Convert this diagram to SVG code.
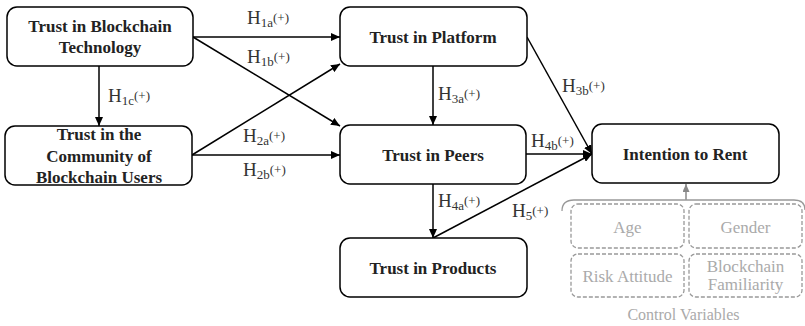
<svg xmlns="http://www.w3.org/2000/svg" width="805" height="326" viewBox="0 0 805 326">
  <style>
    text { font-family: 'Liberation Serif', 'DejaVu Serif', serif; }
    .node rect { fill: #ffffff; stroke: #000000; stroke-width: 1.5; }
    .node text { font-weight: bold; font-size: 17px; fill: #222222; text-anchor: middle; }
    .edge { stroke: #000000; stroke-width: 1.5; fill: none; marker-end: url(#arrow); }
    .hyp { font-size: 19px; fill: #333333; }
    .hyp .s { font-size: 13px; }
    .ctrl rect { fill: none; stroke: #999999; stroke-width: 1.3; stroke-dasharray: 4 2; }
    .ctrl text { font-size: 17px; fill: #aaaaaa; text-anchor: middle; }
    .ctrl text.ctrl-label { font-size: 16px; }
    .bracket { stroke: #999999; stroke-width: 1.3; fill: none; }
  </style>
  <defs>
    <marker id="arrow" viewBox="0 0 10 10" refX="10" refY="5" markerWidth="9" markerHeight="8" markerUnits="userSpaceOnUse" orient="auto" preserveAspectRatio="none">
      <path d="M0,0 L10,5 L0,10 Z" fill="#000000"/>
    </marker>
    <marker id="arrow-grey" viewBox="0 0 10 10" refX="10" refY="5" markerWidth="8" markerHeight="7" markerUnits="userSpaceOnUse" orient="auto" preserveAspectRatio="none">
      <path d="M0,0 L10,5 L0,10 Z" fill="#888888"/>
    </marker>
  </defs>

  <!-- connectors -->
  <g id="connectors">
    <line class="edge" x1="193" y1="37" x2="340" y2="37"/>
    <line class="edge" x1="193" y1="37" x2="340" y2="126"/>
    <line class="edge" x1="99" y1="66" x2="99" y2="126"/>
    <line class="edge" x1="192" y1="155" x2="340" y2="64"/>
    <line class="edge" x1="192" y1="155" x2="340" y2="155"/>
    <line class="edge" x1="433" y1="66" x2="433" y2="125"/>
    <line class="edge" x1="527" y1="37" x2="592" y2="154"/>
    <line class="edge" x1="526" y1="154" x2="592" y2="154"/>
    <line class="edge" x1="433" y1="184" x2="433" y2="238"/>
    <line class="edge" x1="433" y1="238" x2="592" y2="154"/>
    <line x1="686" y1="200" x2="686" y2="184" stroke="#888888" stroke-width="1.5" marker-end="url(#arrow-grey)"/>
  </g>

  <!-- hypothesis labels -->
  <g id="labels">
    <text class="hyp" x="247" y="24">H<tspan class="s" dy="3">1a</tspan><tspan class="s" dy="-5">(+)</tspan></text>
    <text class="hyp" x="247" y="63">H<tspan class="s" dy="3">1b</tspan><tspan class="s" dy="-5">(+)</tspan></text>
    <text class="hyp" x="108" y="102">H<tspan class="s" dy="3">1c</tspan><tspan class="s" dy="-5">(+)</tspan></text>
    <text class="hyp" x="243" y="142">H<tspan class="s" dy="3">2a</tspan><tspan class="s" dy="-5">(+)</tspan></text>
    <text class="hyp" x="243" y="176">H<tspan class="s" dy="3">2b</tspan><tspan class="s" dy="-5">(+)</tspan></text>
    <text class="hyp" x="438" y="100">H<tspan class="s" dy="3">3a</tspan><tspan class="s" dy="-5">(+)</tspan></text>
    <text class="hyp" x="562" y="92">H<tspan class="s" dy="3">3b</tspan><tspan class="s" dy="-5">(+)</tspan></text>
    <text class="hyp" x="531" y="147">H<tspan class="s" dy="3">4b</tspan><tspan class="s" dy="-5">(+)</tspan></text>
    <text class="hyp" x="438" y="207">H<tspan class="s" dy="3">4a</tspan><tspan class="s" dy="-5">(+)</tspan></text>
    <text class="hyp" x="512" y="217">H<tspan class="s" dy="3">5</tspan><tspan class="s" dy="-5">(+)</tspan></text>
  </g>

  <!-- constructs -->
  <g id="trust-blockchain" class="node">
    <rect x="7" y="7" width="186" height="59" rx="10"/>
    <text x="100" y="32">Trust in Blockchain</text>
    <text x="100" y="53">Technology</text>
  </g>
  <g id="trust-community" class="node">
    <rect x="5" y="126" width="187" height="59" rx="10"/>
    <text x="99" y="140">Trust in the</text>
    <text x="99" y="162">Community of</text>
    <text x="99" y="183">Blockchain Users</text>
  </g>
  <g id="trust-platform" class="node">
    <rect x="340" y="7" width="187" height="59" rx="10"/>
    <text x="433" y="43">Trust in Platform</text>
  </g>
  <g id="trust-peers" class="node">
    <rect x="340" y="125" width="186" height="59" rx="10"/>
    <text x="433" y="161">Trust in Peers</text>
  </g>
  <g id="intention-rent" class="node">
    <rect x="592" y="124" width="187" height="59" rx="10"/>
    <text x="685" y="160">Intention to Rent</text>
  </g>
  <g id="trust-products" class="node">
    <rect x="340" y="238" width="187" height="59" rx="10"/>
    <text x="433" y="274">Trust in Products</text>
  </g>

  <!-- control variables -->
  <g id="controls" class="ctrl">
    <path class="bracket" d="M562,211 Q562,200 574,200 L794,200 Q805,200 805,210"/>
    <rect x="571" y="204" width="113" height="44" rx="7"/>
    <rect x="689" y="204" width="113" height="44" rx="7"/>
    <rect x="571" y="254" width="113" height="43" rx="7"/>
    <rect x="689" y="254" width="113" height="43" rx="7"/>
    <text x="627.5" y="233">Age</text>
    <text x="745.5" y="233">Gender</text>
    <text x="627.5" y="282">Risk Attitude</text>
    <text x="745.5" y="272">Blockchain</text>
    <text x="745.5" y="290">Familiarity</text>
    <text class="ctrl-label" x="683.5" y="320">Control Variables</text>
  </g>
</svg>
